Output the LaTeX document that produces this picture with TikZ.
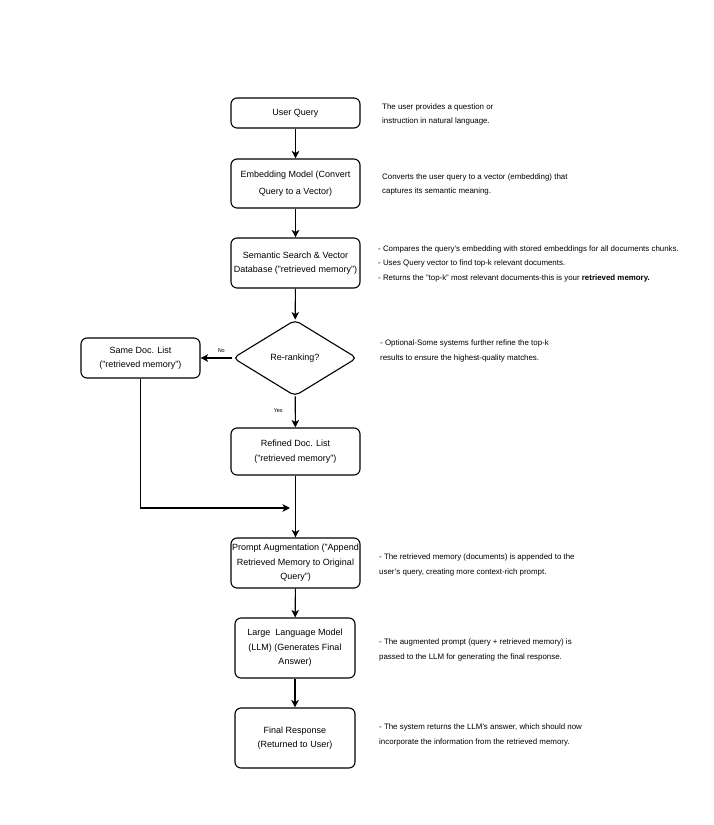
\documentclass[tikz,border=0pt]{standalone}
\usepackage{fontspec}
\setmainfont{Liberation Sans}
\usetikzlibrary{shapes.geometric,arrows.meta}
\begin{document}
\begin{tikzpicture}[x=1pt,y=-1pt,
  box/.style={draw,line width=1.1pt,rounded corners=6pt,inner sep=0pt,align=center,
    font=\fontsize{9}{14.5}\selectfont},
  decision/.style={draw,line width=1.1pt,diamond,rounded corners=5pt,inner sep=0pt,
    minimum width=124pt,minimum height=76pt,font=\fontsize{9}{11}\selectfont},
  note/.style={anchor=west,align=left,inner sep=0pt,font=\fontsize{7.9}{14.5}\selectfont},
  lbl/.style={inner sep=0pt,font=\fontsize{5.5}{6}\selectfont},
  arr/.style={line width=1.1pt,-{Stealth[length=7.5pt,width=7.5pt,inset=2pt]}}]
\useasboundingbox (0,0) rectangle (713,825);
\fill[white] (0,0) rectangle (713,825);

\node[box,minimum width=129pt,minimum height=30pt] (uq) at (295.5,113) {User Query};
\node[box,minimum width=129pt,minimum height=49pt,font=\fontsize{9}{17}\selectfont] (emb) at (295.5,183.5) {Embedding Model (Convert\\Query to a Vector)};
\node[box,minimum width=129pt,minimum height=50pt] (sem) at (295.5,263) {Semantic Search \& Vector\\Database ("retrieved memory")};
\node[decision] (rr) at (295,358) {Re-ranking?};
\node[box,minimum width=119pt,minimum height=40pt] (same) at (140.5,358) {Same Doc. List\\("retrieved memory")};
\node[box,minimum width=129pt,minimum height=47pt] (ref) at (295.5,451.5) {Refined Doc. List\\("retrieved memory")};
\node[box,minimum width=129pt,minimum height=50pt] (pa) at (295.5,563) {Prompt Augmentation ("Append\\Retrieved Memory to Original\\Query")};
\node[box,minimum width=120pt,minimum height=60pt] (llm) at (295,648) {Large\ \ Language Model\\(LLM) (Generates Final\\Answer)};
\node[box,minimum width=120pt,minimum height=60pt] (fin) at (295,738) {Final Response\\(Returned to User)};

\coordinate (j) at (290,508);

\draw[arr] (uq) -- (emb);
\draw[arr] (emb) -- (sem);
\draw[arr] (sem) -- (rr);
\draw[arr] (rr) -- node[lbl,above=5pt,pos=0.35]{No} (same);
\draw[arr] (rr) -- node[lbl,left=12pt,pos=0.45]{Yes} (ref);
\draw[arr] (same.south) |- (j);
\draw[arr] (ref) -- (pa);
\draw[arr] (pa) -- (llm);
\draw[arr] (llm) -- (fin);

\node[note] (n1) at (382,114.5) {The user provides a question or\\instruction in natural language.};
\node[note] (n2) at (382,184.5) {Converts the user query to a vector (embedding) that\\captures its semantic meaning.};
\node[note] (n3) at (378,263.5) {- Compares the query's embedding with stored embeddings for all documents chunks.\\- Uses Query vector to find top-k relevant documents.\\- Returns the "top-k" most relevant documents-this is your \textbf{retrieved memory.}};
\node[note] (n4) at (380,351) {- Optional-Some systems further refine the top-k\\results to ensure the highest-quality matches.};
\node[note] (n5) at (379,565) {- The retrieved memory (documents) is appended to the\\user's query, creating more context-rich prompt.};
\node[note] (n6) at (379,650) {- The augmented prompt (query + retrieved memory) is\\passed to the LLM for generating the final response.};
\node[note] (n7) at (379,735) {- The system returns the LLM's answer, which should now\\incorporate the information from the retrieved memory.};
\end{tikzpicture}
\end{document}
